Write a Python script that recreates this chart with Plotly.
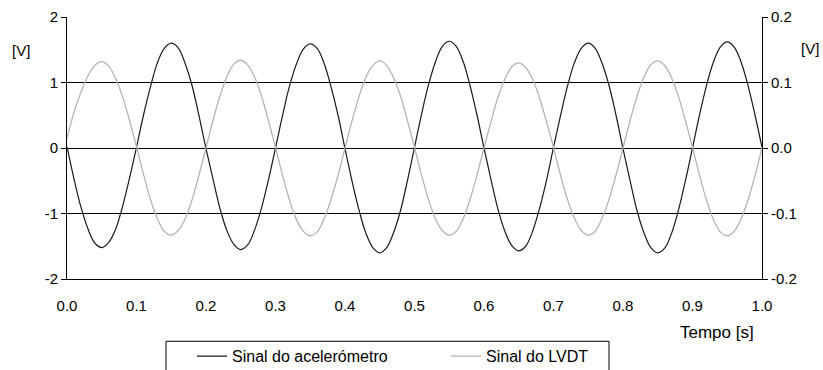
import plotly.graph_objects as go

# Time axis [s]
tempo = [round(i * 0.01, 2) for i in range(101)]

# Sinal do acelerómetro [V] (left axis)
acelerometro = [
    0.02, -0.47, -0.90, -1.23, -1.45, -1.52, -1.44, -1.24, -0.89, -0.46,
    0.01, 0.50, 0.93, 1.30, 1.52, 1.60, 1.53, 1.29, 0.95, 0.49,
    -0.01, -0.47, -0.92, -1.26, -1.47, -1.55, -1.48, -1.25, -0.91, -0.48,
    0.00, 0.49, 0.94, 1.28, 1.51, 1.59, 1.52, 1.29, 0.93, 0.50,
    -0.01, -0.50, -0.94, -1.30, -1.52, -1.60, -1.52, -1.29, -0.95, -0.49,
    0.01, 0.51, 0.96, 1.31, 1.55, 1.63, 1.55, 1.32, 0.95, 0.50,
    0.00, -0.48, -0.93, -1.27, -1.49, -1.57, -1.50, -1.27, -0.92, -0.49,
    0.01, 0.49, 0.94, 1.30, 1.52, 1.60, 1.52, 1.29, 0.95, 0.50,
    -0.01, -0.49, -0.95, -1.29, -1.52, -1.60, -1.53, -1.30, -0.94, -0.49,
    0.00, 0.50, 0.95, 1.31, 1.54, 1.62, 1.54, 1.31, 0.95, 0.50,
    0.01,
]

# Sinal do LVDT [V] (right axis)
lvdt = [
    0.015, 0.054, 0.085, 0.110, 0.126, 0.132, 0.125, 0.106, 0.078, 0.042,
    0.002, -0.040, -0.078, -0.108, -0.127, -0.133, -0.126, -0.108, -0.079, -0.041,
    0.000, 0.042, 0.079, 0.109, 0.128, 0.134, 0.127, 0.108, 0.079, 0.041,
    0.001, -0.041, -0.079, -0.109, -0.127, -0.134, -0.128, -0.108, -0.078, -0.042,
    0.000, 0.041, 0.078, 0.108, 0.126, 0.133, 0.126, 0.107, 0.079, 0.041,
    0.001, -0.041, -0.078, -0.108, -0.126, -0.133, -0.127, -0.108, -0.078, -0.041,
    0.000, 0.040, 0.077, 0.105, 0.124, 0.130, 0.123, 0.105, 0.076, 0.040,
    0.001, -0.041, -0.078, -0.107, -0.126, -0.133, -0.127, -0.107, -0.078, -0.041,
    0.000, 0.041, 0.078, 0.108, 0.127, 0.133, 0.126, 0.107, 0.078, 0.041,
    0.001, -0.041, -0.079, -0.109, -0.128, -0.134, -0.127, -0.108, -0.079, -0.042,
    0.000,
]

# Tick labels
y_left_ticks = [-2, -1, 0, 1, 2]
y_left_labels = ["-2", "-1", "0", "1", "2"]
y_right_ticks = [-0.2, -0.1, 0.0, 0.1, 0.2]
y_right_labels = ["-0.2", "-0.1", "0.0", "0.1", "0.2"]

FONT = "Liberation Sans, Arial, sans-serif"
FS = 15

fig = go.Figure()
fig.add_trace(go.Scatter(
    x=tempo, y=acelerometro, name="Sinal do acelerómetro", mode="lines",
    line=dict(color="#1a1a1a", width=1.2, shape="spline"), yaxis="y",
))
fig.add_trace(go.Scatter(
    x=tempo, y=lvdt, name="Sinal do LVDT", mode="lines",
    line=dict(color="#b4b4b4", width=1.3, shape="spline"), yaxis="y2",
))

L, R, T, B = 67, 61, 16.5, 90.5
W, H = 823, 370
pw, ph = W - L - R, H - T - B

def px_x(x):
    return (x - L) / pw

def px_y(y):
    return (H - B - y) / ph

fig.update_layout(
    width=W, height=H,
    margin=dict(l=L, r=R, t=T, b=B, pad=0, autoexpand=False),
    paper_bgcolor="white", plot_bgcolor="white",
    font=dict(family=FONT, size=FS, color="black"),
    xaxis=dict(
        range=[0, 1], dtick=0.1, tick0=0, tickformat=".1f",
        showline=True, linecolor="black", linewidth=1,
        showgrid=False, zeroline=False, ticks="",
        ticklabelstandoff=13, automargin=False,
    ),
    yaxis=dict(
        range=[-2, 2], tickvals=y_left_ticks, ticktext=y_left_labels,
        showline=True, linecolor="black", linewidth=1,
        showgrid=True, gridcolor="black", gridwidth=1,
        zeroline=False, ticks="outside", ticklen=5, tickcolor="black",
        automargin=False,
    ),
    yaxis2=dict(
        range=[-0.2, 0.2], tickvals=y_right_ticks, ticktext=y_right_labels,
        overlaying="y", side="right", anchor="x",
        showline=True, linecolor="black", linewidth=1,
        showgrid=False, zeroline=False,
        ticks="outside", ticklen=5, tickcolor="black", automargin=False,
    ),
    showlegend=True,
    legend=dict(
        orientation="h", x=px_x(192), xanchor="left",
        y=px_y(340), yanchor="top",
        entrywidth=209, entrywidthmode="pixels",
        bgcolor="rgba(0,0,0,0)", font=dict(family=FONT, size=16),
        traceorder="normal",
    ),
    shapes=[dict(
        type="rect", xref="paper", yref="paper",
        x0=px_x(166), x1=px_x(609), y0=px_y(342), y1=px_y(400),
        line=dict(color="black", width=1), fillcolor="rgba(0,0,0,0)",
    )],
    annotations=[
        dict(text="Tempo [s]", xref="paper", yref="paper",
             x=px_x(717), y=px_y(333), showarrow=False,
             xanchor="center", yanchor="middle", font=dict(size=17)),
        dict(text="[V]", xref="paper", yref="paper",
             x=px_x(21), y=px_y(50), showarrow=False,
             xanchor="center", yanchor="middle", font=dict(size=15)),
        dict(text="[V]", xref="paper", yref="paper",
             x=px_x(810), y=px_y(48), showarrow=False,
             xanchor="center", yanchor="middle", font=dict(size=15)),
    ],
)

fig.write_html("out.html")
